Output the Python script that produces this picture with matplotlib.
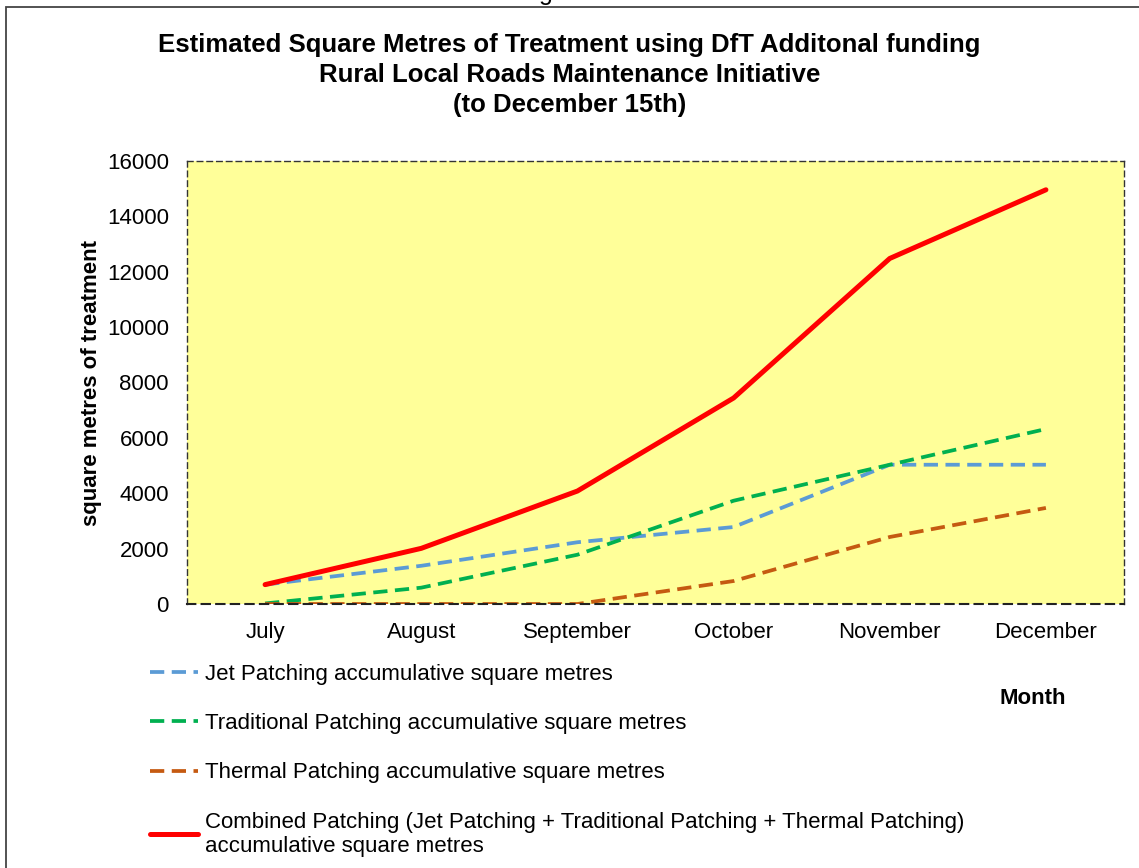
import matplotlib.pyplot as plt
import matplotlib.patches as mpatches
import numpy as np

plt.rcParams['font.family'] = ['Liberation Sans', 'DejaVu Sans']

months = ["July", "August", "September", "October", "November", "December"]
jet = [700, 1380, 2230, 2780, 5030, 5030]
traditional = [20, 590, 1780, 3730, 5030, 6320]
thermal = [0, 0, 0, 830, 2420, 3470]
combined = [700, 2010, 4080, 7440, 12480, 14960]

labels = [
    "Jet Patching accumulative square metres",
    "Traditional Patching accumulative square metres",
    "Thermal Patching accumulative square metres",
    "Combined Patching (Jet Patching + Traditional Patching + Thermal Patching)\naccumulative square metres",
]

fig = plt.figure(figsize=(11.39, 8.68), dpi=100)
ax = fig.add_axes([187 / 1139, 1 - 604 / 868, 937 / 1139, 443 / 868])
ax.set_facecolor("#FFFF99")

x = np.arange(len(months))
dash = (0, (3.8, 2.0))
ax.plot(x, jet, color="#5B9BD5", lw=2.7, linestyle=dash, label=labels[0])
ax.plot(x, traditional, color="#00B050", lw=2.7, linestyle=dash, label=labels[1])
ax.plot(x, thermal, color="#C55A11", lw=2.7, linestyle=dash, label=labels[2])
ax.plot(x, combined, color="#FF0000", lw=3.6, solid_capstyle="round", label=labels[3])

ax.set_xlim(-0.5, len(months) - 0.5)
ax.set_ylim(0, 16000)
ax.set_yticks(np.arange(0, 16001, 2000))
ax.set_xticks(x)
ax.set_xticklabels(months)
ax.tick_params(length=0, labelsize=16, pad=13)
for s in ax.spines.values():
    s.set_linestyle((0, (4, 3)))
    s.set_color("#333333")
    s.set_linewidth(1)
ax.spines["bottom"].set_linewidth(1.5)
ax.spines["bottom"].set_color("#222222")

ax.set_ylabel("square metres of treatment", fontsize=16, fontweight="bold")
ax.yaxis.set_label_coords(-0.091, 0.5)

fig.text(0.5, 1 - 75 / 868, "Estimated Square Metres of Treatment using DfT Additonal funding\n"
         "Rural Local Roads Maintenance Initiative\n(to December 15th)",
         ha="center", va="center", fontsize=18.5, fontweight="bold", linespacing=1.31)

fig.text(1033 / 1139, 1 - 698 / 868, "Month", ha="center", va="center",
         fontsize=16, fontweight="bold")
fig.text(0.479, 1.0, "g", ha="center", va="baseline", fontsize=18)

fig.legend(loc="upper left", bbox_to_anchor=(150 / 1139, 1 - 664 / 868),
           frameon=False, fontsize=16, handlelength=2.15, handletextpad=0.33,
           labelspacing=1.27, borderpad=0, borderaxespad=0)

fig.patches.append(mpatches.Rectangle((6 / 1139, -0.1), 1.2, 1.1 - 7 / 868,
                                      transform=fig.transFigure, fill=False,
                                      edgecolor="#444444", lw=1.3))

plt.savefig("out.png", dpi=100)
